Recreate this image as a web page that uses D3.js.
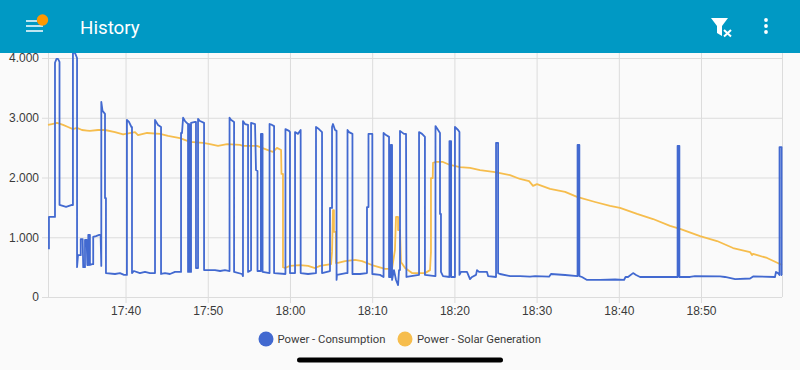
<!DOCTYPE html>
<html><head><meta charset="utf-8">
<script src="https://cdn.jsdelivr.net/npm/d3@7"></script>
<style>html,body{margin:0;padding:0;background:#fafafa;overflow:hidden}svg{display:block;font-family:Roboto,sans-serif}</style>
</head><body><svg id="c" width="800" height="370"></svg>
<script>
const seriesNames = ["Power - Consumption", "Power - Solar Generation"];
const seriesColors = ["#4269d0", "#f6bd4d"];
const yTicks = [0, 1000, 2000, 3000, 4000];
const xTickMinutes = [40, 50, 60, 70, 80, 90, 100, 110];
// minutes after 17:00, watts
const consumptionTimes = [30.69,30.69,31.42,31.42,31.6,31.79,31.97,31.97,32.77,33.49,33.61,33.61,33.86,34.1,34.1,34.22,34.55,34.55,34.79,34.86,35.07,35.07,35.28,35.35,35.47,35.47,35.68,35.68,35.96,36.08,36.08,36.41,36.81,36.98,37.06,37.06,37.2,37.5,37.5,37.62,37.62,38.72,39.33,39.82,40.18,40.18,40.43,40.73,40.79,40.79,41.03,41.76,42.37,42.98,43.59,43.59,43.95,44.32,44.32,44.8,45.41,46.02,46.75,46.75,46.87,47,47.24,47.6,47.6,47.72,47.72,47.85,47.85,47.97,47.97,48.45,48.58,48.58,48.82,48.82,49.06,49.55,49.55,50.89,51.5,52.1,52.65,52.65,52.83,53.2,53.2,54.17,54.29,54.29,54.54,54.9,54.9,55.27,55.27,55.75,55.88,56.06,56.06,56.48,56.48,56.67,56.67,57.52,57.52,57.82,58.07,58.07,59.46,59.46,59.89,60.01,60.01,60.62,60.62,60.98,61.31,61.31,62.2,63.17,63.17,63.53,63.9,63.9,64.88,64.88,65.12,65.12,65.24,65.49,65.67,65.67,65.73,66.82,67,67,67.19,67.61,67.61,68.53,69.38,69.38,69.56,69.56,70.02,70.02,70.96,71.39,71.39,71.69,72.05,72.05,72.18,72.18,72.3,72.3,72.42,72.42,72.66,72.91,73.15,73.27,73.39,73.39,73.88,74.12,74.18,75.7,75.7,76.07,76.43,76.43,77.65,77.71,77.71,78.02,78.26,78.26,78.38,78.38,78.62,79.41,79.41,79.6,79.6,80.08,80.08,80.45,80.63,80.63,80.81,81.54,81.91,82.15,82.64,82.76,83,83.98,84.1,85.07,85.07,85.32,85.32,85.56,86.77,87.99,89.21,89.82,91.52,91.76,93.47,94.99,94.99,95.2,95.2,95.53,96.14,97.72,99.55,100.64,100.83,101.13,101.74,102.1,102.59,103.8,107.15,107.15,107.37,107.37,108.67,109.28,112.32,112.93,114.15,115.97,116.34,119.01,119.13,119.37,119.56,119.56,119.8,119.8,119.86];
const consumptionValues = [800,1340,1340,3920,3985,3985,3935,1540,1510,1540,1540,4085,4085,4000,500,700,700,970,970,500,500,955,955,535,535,1040,1040,535,550,550,1005,1020,1040,1040,520,3265,3115,3065,1655,1655,400,385,400,370,370,2965,2930,2845,2845,400,435,400,420,400,400,2965,2880,2845,385,400,385,420,420,2745,2745,3000,2945,2895,420,420,2895,2860,420,420,2915,2930,2930,485,485,2980,2945,2915,450,450,435,450,435,3000,2965,2930,420,385,350,2945,2895,2880,420,450,2915,2895,2125,2110,435,435,2730,2730,420,400,2895,2880,2860,400,385,2810,2780,2760,400,400,2760,2730,2795,400,385,400,2845,2810,2760,400,435,1490,1490,2845,2895,2795,2780,285,370,400,400,2795,2760,2730,385,385,400,1505,1505,2730,2730,385,370,335,2745,2710,2680,335,335,2545,335,2545,2545,285,450,285,200,450,450,2780,2730,2730,335,370,2760,2730,2680,370,350,350,2860,2795,2745,1390,1390,420,350,335,2610,2610,335,335,2845,2795,2760,370,420,420,300,335,370,450,420,420,350,335,2580,2580,400,385,350,350,340,350,340,385,368,350,2545,2545,350,335,285,285,293,285,335,335,400,368,335,335,335,2530,2530,335,335,350,345,335,300,310,345,335,420,400,368,2510,2510,368,368];
const solarTimes = [30.57,31.06,31.67,32.4,33,33.61,34.1,34.71,35.32,35.68,36.65,37.5,38.72,39.7,41.16,41.52,42.62,44.2,45.17,46.63,47.85,49.43,50.28,51.25,52.35,53.93,54.29,56,56.6,57.58,57.94,58.43,58.92,58.98,59.16,59.16,59.4,60.01,61.23,62.2,63.05,63.66,65,65.12,65.24,65.36,65.36,65.6,65.6,65.85,66.7,67.92,68.77,69.98,71.57,72.42,72.78,72.91,73.15,73.15,73.39,73.51,74,74.85,76.43,77.04,77.16,77.16,77.37,77.41,77.77,78.62,79.48,80.69,81.91,83.13,84.95,86.77,87.99,89.09,89.57,90.06,91.64,93.47,94.93,97.12,98.94,100.16,102.23,104.17,106.24,107.45,109.89,111.96,113.9,115.97,116.2,116.34,118.04,119.86];
const solarValues = [2880,2895,2915,2880,2845,2810,2830,2795,2785,2780,2795,2795,2760,2720,2760,2710,2745,2730,2695,2660,2595,2580,2560,2530,2560,2545,2530,2530,2495,2445,2430,2495,2460,2060,2060,500,485,520,535,520,485,520,550,755,1455,1455,1090,1090,570,570,600,620,600,535,470,475,785,1340,1340,1120,1120,585,485,400,400,450,755,1990,1990,2245,2260,2260,2210,2175,2160,2125,2090,2040,1975,1940,1860,1890,1810,1760,1675,1590,1525,1490,1390,1305,1190,1140,1020,937,820,753,703,720,653,535];

const toDate = m => new Date(2024, 0, 1, 17, 0, m * 60);
const svg = d3.select("#c");
const x = d3.scaleTime().domain([toDate(30.57), toDate(119.86)]).range([48, 782]);
const y = d3.scaleLinear().domain([0, 4000]).range([297, 58]);
const grid = "#dcdcdc", ink = "#3a3a3a";

const yAxis = svg.append("g").attr("transform", "translate(48,0)")
  .call(d3.axisLeft(y).tickValues(yTicks).tickSize(6).tickPadding(3)
    .tickFormat(v => d3.format(",")(v).replace(",", ".")));
yAxis.select(".domain").attr("stroke", grid).attr("d", "M0.5,53V297");
yAxis.selectAll("line").attr("stroke", grid).attr("x2", 734).attr("x1", -6);
yAxis.selectAll("text").attr("font-size", 12).attr("fill", ink);

const xAxis = svg.append("g").attr("transform", "translate(0,297)")
  .call(d3.axisBottom(x).tickValues(xTickMinutes.map(toDate)).tickSize(6).tickPadding(3)
    .tickFormat(d3.timeFormat("%H:%M")));
xAxis.select(".domain").remove();
xAxis.selectAll("line").attr("stroke", grid).attr("y1", -244).attr("y2", 6);
xAxis.selectAll("text").attr("font-size", 12).attr("fill", ink);
svg.append("line").attr("x1", 782.5).attr("x2", 782.5).attr("y1", 53).attr("y2", 297).attr("stroke", grid);

const line = d3.line().x(d => x(toDate(d[0]))).y(d => y(d[1]));
svg.append("path").datum(d3.zip(solarTimes, solarValues)).attr("d", line)
  .attr("fill", "none").attr("stroke", seriesColors[1]).attr("stroke-width", 1.8).attr("stroke-linejoin", "round");
svg.append("path").datum(d3.zip(consumptionTimes, consumptionValues)).attr("d", line)
  .attr("fill", "none").attr("stroke", seriesColors[0]).attr("stroke-width", 1.8).attr("stroke-linejoin", "round");

// legend
const legendX = [266, 405], legendTextX = [277.5, 417];
seriesNames.forEach((n, i) => {
  svg.append("circle").attr("cx", legendX[i]).attr("cy", 339).attr("r", 7.5).attr("fill", seriesColors[i]);
  svg.append("text").attr("x", legendTextX[i]).attr("y", 343).attr("font-size", 11.3).attr("fill", ink).text(n);
});
svg.append("rect").attr("x", 297).attr("y", 357.5).attr("width", 206).attr("height", 5).attr("rx", 2.5).attr("fill", "#000");

// app bar
svg.append("rect").attr("width", 800).attr("height", 53).attr("fill", "#0099c4");
svg.append("text").attr("x", 80).attr("y", 34).attr("font-size", 18.8).attr("fill", "#fff").text("History");
[[26, 37, 21], [26, 43, 26], [26, 43, 31]].forEach(l =>
  svg.append("line").attr("x1", l[0]).attr("x2", l[1]).attr("y1", l[2]).attr("y2", l[2]).attr("stroke", "#fff").attr("stroke-width", 1.5));
svg.append("circle").attr("cx", 42.5).attr("cy", 20).attr("r", 5.7).attr("fill", "#ff9800");
svg.append("path").attr("d", "M711,18H728L722,26V36L717,33V26Z").attr("fill", "#fff");
svg.append("path").attr("d", "M724,30L731,36.5M731,30L724,36.5").attr("stroke", "#fff").attr("stroke-width", 2);
[20, 26, 32].forEach(c => svg.append("circle").attr("cx", 766).attr("cy", c).attr("r", 1.9).attr("fill", "#fff"));
</script></body></html>
